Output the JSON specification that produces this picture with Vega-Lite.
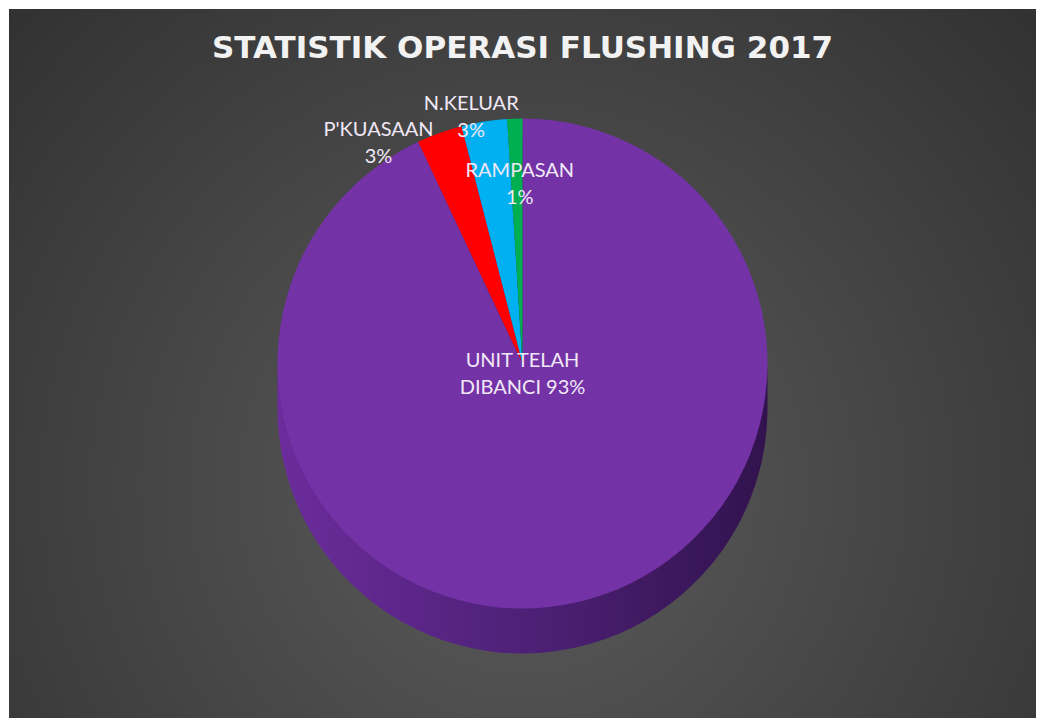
{
  "$schema": "https://vega.github.io/schema/vega-lite/v6.json",
  "width": 1041,
  "height": 718,
  "autosize": {"type": "fit", "contains": "padding"},
  "padding": {"left": 9, "top": 9, "right": 5, "bottom": 0},
  "background": "white",
  "config": {"view": {"stroke": null}},
  "title": {
    "text": "STATISTIK OPERASI FLUSHING 2017",
    "color": "#f2f2f2",
    "font": "DejaVu Sans",
    "fontSize": 31,
    "fontWeight": "bold",
    "anchor": "middle",
    "baseline": "alphabetic",
    "offset": -80
  },
  "data": {
    "values": [
      {"category": "UNIT TELAH DIBANCI", "label": "UNIT TELAH\nDIBANCI 93%", "value": 93, "order": 1},
      {"category": "P'KUASAAN", "label": "P'KUASAAN\n3%", "value": 3, "order": 2},
      {"category": "N.KELUAR", "label": "N.KELUAR\n3%", "value": 3, "order": 3},
      {"category": "RAMPASAN", "label": "RAMPASAN\n1%", "value": 1, "order": 4}
    ]
  },
  "layer": [
    {
      "data": {"values": [{"bg": 1}]},
      "mark": {
        "type": "rect",
        "fill": {
          "gradient": "radial",
          "x1": 0.5, "y1": 0.62, "x2": 0.5, "y2": 0.62,
          "r1": 0, "r2": 0.72,
          "stops": [
            {"offset": 0, "color": "#5c5c5c"},
            {"offset": 1, "color": "#2f2f2f"}
          ]
        }
      },
      "encoding": {
        "x": {"value": 0},
        "x2": {"value": "width"},
        "y": {"value": 0},
        "y2": {"value": "height"}
      }
    },
    {
      "mark": {
        "type": "arc",
        "outerRadius": 245,
        "yOffset": 45,
        "fill": {
          "gradient": "linear",
          "x1": 0, "y1": 0, "x2": 1, "y2": 0,
          "stops": [
            {"offset": 0, "color": "#6c2c9c"},
            {"offset": 0.5, "color": "#4e2177"},
            {"offset": 1, "color": "#32124e"}
          ]
        }
      },
      "encoding": {
        "theta": {"field": "value", "type": "quantitative", "stack": true},
        "order": {"field": "order", "type": "quantitative"}
      }
    },
    {
      "mark": {
        "type": "arc",
        "outerRadius": 245,
        "yOffset": 30,
        "fill": {
          "gradient": "linear",
          "x1": 0, "y1": 0, "x2": 1, "y2": 0,
          "stops": [
            {"offset": 0, "color": "#6c2c9c"},
            {"offset": 0.5, "color": "#4e2177"},
            {"offset": 1, "color": "#32124e"}
          ]
        }
      },
      "encoding": {
        "theta": {"field": "value", "type": "quantitative", "stack": true},
        "order": {"field": "order", "type": "quantitative"}
      }
    },
    {
      "mark": {
        "type": "arc",
        "outerRadius": 245,
        "yOffset": 15,
        "fill": {
          "gradient": "linear",
          "x1": 0, "y1": 0, "x2": 1, "y2": 0,
          "stops": [
            {"offset": 0, "color": "#6c2c9c"},
            {"offset": 0.5, "color": "#4e2177"},
            {"offset": 1, "color": "#32124e"}
          ]
        }
      },
      "encoding": {
        "theta": {"field": "value", "type": "quantitative", "stack": true},
        "order": {"field": "order", "type": "quantitative"}
      }
    },
    {
      "mark": {"type": "arc", "outerRadius": 245},
      "encoding": {
        "theta": {"field": "value", "type": "quantitative", "stack": true},
        "order": {"field": "order", "type": "quantitative"},
        "color": {
          "field": "category",
          "type": "nominal",
          "scale": {
            "domain": ["UNIT TELAH DIBANCI", "P'KUASAAN", "N.KELUAR", "RAMPASAN"],
            "range": ["#7333a6", "#ff0000", "#00b0f0", "#00b050"]
          },
          "legend": null
        }
      }
    },
    {
      "mark": {"type": "text", "radius": 245, "dx": -61, "dy": -3, "font": "Lato", "fontSize": 20, "color": "#f1e8f7", "lineBreak": "\n", "lineHeight": 27, "align": "center", "baseline": "middle"},
      "encoding": {
        "theta": {"field": "value", "type": "quantitative", "stack": true},
        "order": {"field": "order", "type": "quantitative"},
        "text": {"condition": {"test": "datum.category === \"P'KUASAAN\"", "field": "label"}, "value": ""}
      }
    },
    {
      "mark": {"type": "text", "radius": 245, "dx": -13, "dy": -18, "font": "Lato", "fontSize": 20, "color": "#f1e8f7", "lineBreak": "\n", "lineHeight": 27, "align": "center", "baseline": "middle"},
      "encoding": {
        "theta": {"field": "value", "type": "quantitative", "stack": true},
        "order": {"field": "order", "type": "quantitative"},
        "text": {"condition": {"test": "datum.category === 'N.KELUAR'", "field": "label"}, "value": ""}
      }
    },
    {
      "mark": {"type": "text", "radius": 245, "dx": 5, "dy": 52, "font": "Lato", "fontSize": 20, "color": "#f1e8f7", "lineBreak": "\n", "lineHeight": 27, "align": "center", "baseline": "middle"},
      "encoding": {
        "theta": {"field": "value", "type": "quantitative", "stack": true},
        "order": {"field": "order", "type": "quantitative"},
        "text": {"condition": {"test": "datum.category === 'RAMPASAN'", "field": "label"}, "value": ""}
      }
    },
    {
      "mark": {"type": "text", "dy": -3, "font": "Lato", "fontSize": 20, "color": "#f1e8f7", "lineBreak": "\n", "lineHeight": 27, "align": "center", "baseline": "middle"},
      "encoding": {
        "text": {"condition": {"test": "datum.category === 'UNIT TELAH DIBANCI'", "field": "label"}, "value": ""}
      }
    }
  ]
}
